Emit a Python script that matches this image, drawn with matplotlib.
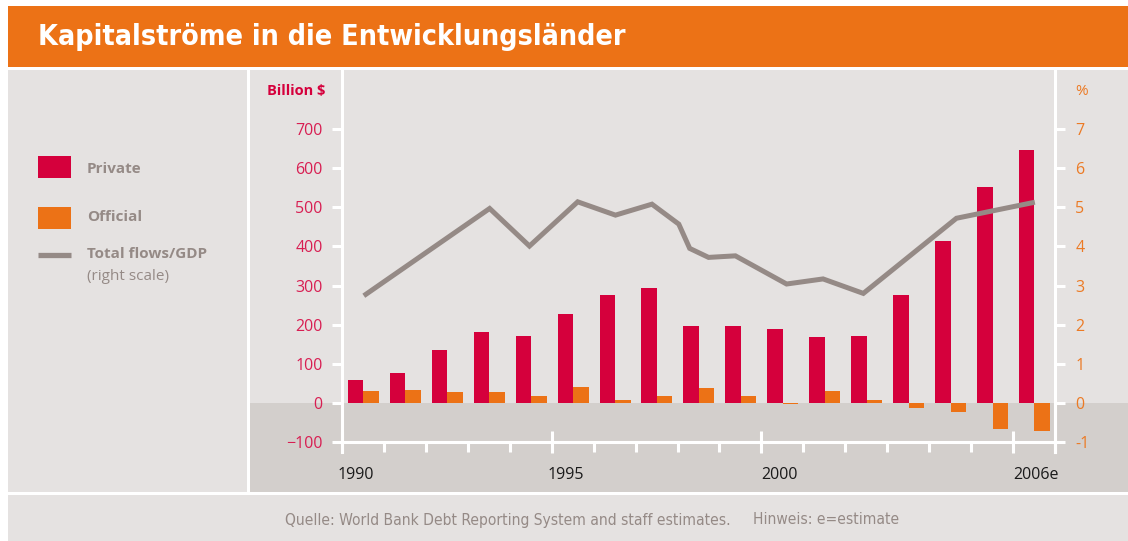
import matplotlib
matplotlib.use("Agg")
import matplotlib.pyplot as plt
from matplotlib.patches import Rectangle
from matplotlib.lines import Line2D
from matplotlib import font_manager

# data
years = list(range(1990, 2007))
private = [59, 77, 135, 181, 171, 227, 276, 294, 197, 197, 189, 169, 171, 276, 414, 552, 646]
official = [31, 33, 28, 28, 18, 41, 8, 18, 38, 18, -2, 31, 8, -12, -22, -66, -72]

# total flows / GDP (right scale), vertices of the line
flow_years = [1990.52, 1993.52, 1994.47, 1995.62, 1996.52, 1997.39, 1998.03, 1998.29,
              1998.74, 1999.38, 2000.6, 2001.47, 2002.43, 2004.65, 2006.52]
flow_pct = [2.74, 4.97, 4.01, 5.14, 4.80, 5.08, 4.57, 3.95,
            3.72, 3.76, 3.04, 3.17, 2.80, 4.72, 5.13]

major_years = [1990, 1995, 2000, 2006]
major_labels = ["1990", "1995", "2000", "2006e"]

RED = "#d5003c"
ORANGE = "#ec7216"
GREY = "#958a86"
BG = "#e5e2e1"
BAND = "#d3cfcc"
TICKRED = "#d81e52"
TICKORANGE = "#ec7a24"

W, H = 1128, 541
fig = plt.figure(figsize=(W / 100, H / 100), dpi=100, facecolor="white")

# a condensed face, if one is installed
cond = font_manager.FontProperties(family="DejaVu Sans", stretch="condensed", weight="bold")
has_cond = "Condensed" in font_manager.findfont(cond, fallback_to_default=False)


def px_rect(x0, y0, x1, y1, color):
    fig.add_artist(Rectangle((x0 / W, 1 - y1 / H), (x1 - x0) / W, (y1 - y0) / H,
                             transform=fig.transFigure, facecolor=color,
                             edgecolor="none", zorder=-10))


px_rect(8, 6, W, 67, ORANGE)      # header
px_rect(8, 70, 247, 492, BG)      # legend panel
px_rect(250, 70, W, 403, BG)      # chart panel
px_rect(250, 403, W, 492, BAND)   # below zero band
px_rect(8, 495, W, H, BG)         # footer

sans = ["Open Sans", "DejaVu Sans"]

if has_cond:
    fig.text(38 / W, 1 - 37 / H, "Kapitalströme in die Entwicklungsländer",
             color="white", fontsize=20.5, fontweight="bold", family="DejaVu Sans",
             fontstretch="condensed", ha="left", va="center")
else:
    fig.text(38 / W, 1 - 37 / H, "Kapitalströme in die Entwicklungsländer",
             color="white", fontsize=20.5, fontweight="semibold", family=sans,
             ha="left", va="center")

# axes: x 342..1055 px, y 70..452 px
ax_l, ax_r, ax_t, ax_b = 342, 1055, 70, 452
ax = fig.add_axes([ax_l / W, 1 - ax_b / H, (ax_r - ax_l) / W, (ax_b - ax_t) / H])
ax.set_facecolor("none")
ppu = 0.3914  # px per billion
ax.set_xlim(1990, 2007)
ax.set_ylim(-(ax_b - 403) / ppu, (403 - ax_t) / ppu)

bw = 0.37
ax.bar([y + 0.14 for y in years], private, width=bw, align="edge", color=RED, zorder=3)
ax.bar([y + 0.51 for y in years], official, width=bw, align="edge", color=ORANGE, zorder=3)

ax.spines["top"].set_visible(False)
for s in ["left", "right"]:
    ax.spines[s].set_color("white")
    ax.spines[s].set_linewidth(2.2)
ax.spines["bottom"].set_position(("data", -100))
ax.spines["bottom"].set_color("white")
ax.spines["bottom"].set_linewidth(2.2)

ax.set_yticks(range(-100, 701, 100))
ax.set_yticklabels(["\u2212100"] + [str(v) for v in range(0, 701, 100)])
ax.tick_params(axis="y", length=7.5, width=2.2, color="white", pad=6.5,
               labelcolor=TICKRED, labelsize=11.5)
for t in ax.get_yticklabels():
    t.set_family(sans)

ax.set_xticks(major_years)
ax.set_xticklabels([])
ax.set_xticks([y for y in range(1990, 2008) if y not in major_years], minor=True)
ax.tick_params(axis="x", which="major", direction="inout", length=16, width=2.2, color="white")
ax.tick_params(axis="x", which="minor", direction="out", length=7.5, width=2.2, color="white")
for yr, lab in zip(major_years, major_labels):
    off = -0.1 if yr < 2000 else 0.0
    ax.text(yr + off, -(475 - 403) / ppu, lab, ha="left", va="center",
            fontsize=11.5, color="#1a1a1a", family=sans, clip_on=False)

ax2 = ax.twinx()
ax2.set_ylim(-(ax_b - 403) / (ppu * 100), (403 - ax_t) / (ppu * 100))
ax2.plot(flow_years, flow_pct, color=GREY, lw=3.6, solid_capstyle="butt",
         solid_joinstyle="miter", zorder=4)
for s in ["top", "left", "bottom"]:
    ax2.spines[s].set_visible(False)
ax2.spines["right"].set_color("white")
ax2.spines["right"].set_linewidth(2.2)
ax2.set_yticks(range(-1, 8))
ax2.set_yticklabels(["-1"] + [str(v) for v in range(0, 8)])
ax2.tick_params(axis="y", length=7.5, width=2.2, color="white", pad=7,
                labelcolor=TICKORANGE, labelsize=11.5)
for t in ax2.get_yticklabels():
    t.set_family(sans)

fig.text(325 / W, 1 - 91 / H, "Billion $", color=RED, fontsize=10.5, fontweight="bold",
         family=sans, ha="right", va="center")
fig.text(1075 / W, 1 - 92 / H, "%", color=TICKORANGE, fontsize=11, family=sans,
         ha="left", va="center")

# legend panel
px_rect(38, 156, 71, 178, RED)
px_rect(38, 207, 71, 229, ORANGE)
fig.add_artist(Line2D([38 / W, 71 / W], [1 - 255 / H, 1 - 255 / H], color=GREY, lw=3.8,
                      solid_capstyle="butt", transform=fig.transFigure))
for ypx, lab in [(169, "Private"), (217, "Official"), (254, "Total flows/GDP")]:
    fig.text(87 / W, 1 - ypx / H, lab, color=GREY, fontsize=11, fontweight="bold",
             family=sans, ha="left", va="center")
fig.text(87 / W, 1 - 277 / H, "(right scale)", color=GREY, fontsize=11,
         family=sans, ha="left", va="center")

# footer
if has_cond:
    foot = dict(fontsize=11.2, family="DejaVu Sans", fontstretch="condensed")
else:
    foot = dict(fontsize=10, family=sans)
fig.text(285 / W, 1 - 520 / H, "Quelle: World Bank Debt Reporting System and staff estimates.",
         color=GREY, ha="left", va="center", **foot)
fig.text(753 / W, 1 - 520 / H, "Hinweis: e=estimate",
         color=GREY, ha="left", va="center", **foot)

fig.savefig("out.png", dpi=100, facecolor="white")
